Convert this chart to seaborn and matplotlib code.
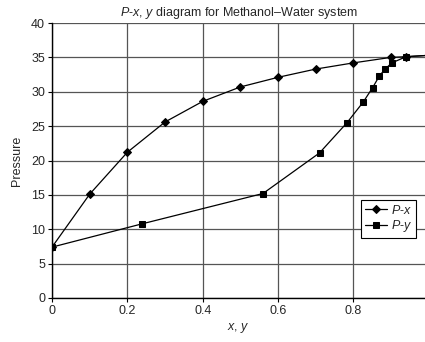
import matplotlib
matplotlib.use("Agg")
import matplotlib.pyplot as plt
import seaborn as sns
import pandas as pd

# Data
x_liquid = [0.0, 0.1, 0.2, 0.3, 0.4, 0.5, 0.6, 0.7, 0.8, 0.9, 0.94, 1.0]
p_liquid = [7.4, 15.1, 21.2, 25.6, 28.6, 30.7, 32.1, 33.3, 34.2, 35.0, 35.1, 35.3]
y_vapor = [0.0, 0.24, 0.56, 0.71, 0.783, 0.826, 0.851, 0.869, 0.884, 0.902, 0.94, 1.0]
p_vapor = [7.4, 10.8, 15.2, 21.1, 25.5, 28.5, 30.6, 32.3, 33.3, 34.2, 35.1, 35.3]
x_ticks = [0, 0.2, 0.4, 0.6, 0.8]
y_ticks = [0, 5, 10, 15, 20, 25, 30, 35, 40]

sns.set_style("white")
plt.rcParams["font.family"] = ["Liberation Sans", "DejaVu Sans"]
plt.rcParams["mathtext.fontset"] = "custom"
plt.rcParams["mathtext.it"] = "Liberation Sans:italic"
plt.rcParams["mathtext.rm"] = "Liberation Sans"

fig = plt.figure(figsize=(4.25, 3.42), dpi=100)
ax = fig.add_axes([52 / 425, 1 - 298 / 342, 1 - 52 / 425, 275 / 342])

df_l = pd.DataFrame({"x": x_liquid, "P": p_liquid})
df_v = pd.DataFrame({"x": y_vapor, "P": p_vapor})

sns.lineplot(data=df_l, x="x", y="P", ax=ax, color="black", lw=0.9, marker="D",
             markersize=3.8, markeredgecolor="black", sort=False, label="$P$-$x$")
sns.lineplot(data=df_v, x="x", y="P", ax=ax, color="black", lw=0.9, marker="s",
             markersize=4.3, markeredgecolor="black", sort=False, label="$P$-$y$")

ax.set_xlim(0, 0.99)
ax.set_ylim(0, 40)
ax.set_xticks(x_ticks)
ax.set_xticklabels(["0", "0.2", "0.4", "0.6", "0.8"])
ax.set_yticks(y_ticks)
ax.grid(True, color="#555555", lw=0.9)
ax.set_axisbelow(True)
for s in ["top", "right"]:
    ax.spines[s].set_visible(False)
for s in ["left", "bottom"]:
    ax.spines[s].set_color("black")
    ax.spines[s].set_linewidth(1.0)
ax.tick_params(axis="both", direction="out", length=3, width=0.8, labelsize=9,
               color="black", left=True, bottom=True, pad=2)

ax.set_xlabel("$x$, $y$", fontsize=9, labelpad=3)
ax.set_ylabel("Pressure", fontsize=9, labelpad=6)
ax.set_title("$P$-$x$, $y$ diagram for Methanol\u2013Water system", fontsize=9, pad=5)

leg = ax.legend(loc="upper right", bbox_to_anchor=(0.976, 0.356), borderaxespad=0,
                fancybox=False, edgecolor="black", framealpha=1, fontsize=9,
                handlelength=1.8, handletextpad=0.3, borderpad=0.3, labelspacing=0.1)
leg.get_frame().set_linewidth(0.8)

fig.savefig("out.png", dpi=100)
